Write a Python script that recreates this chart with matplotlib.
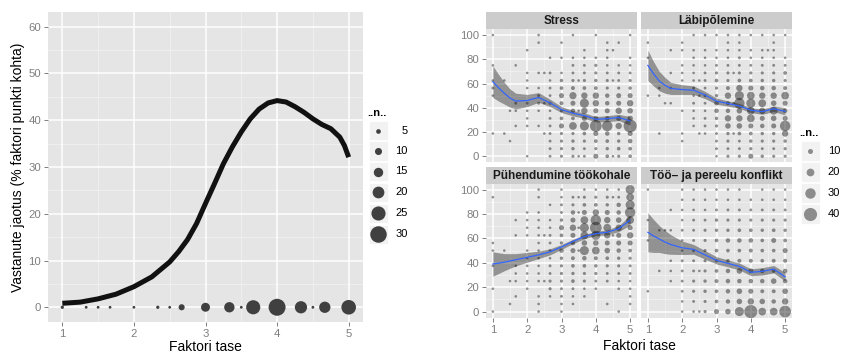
import matplotlib
matplotlib.use("Agg")
import matplotlib.pyplot as plt
from matplotlib.patches import Rectangle

plt.rcParams['font.family'] = ['Liberation Sans', 'DejaVu Sans']

DPI = 100
W, H = 841, 354

# ---------------- data ----------------
# factor levels (x) shared by both charts
levels = [1, 4/3, 1.5, 5/3, 2, 7/3, 2.5, 8/3, 3, 10/3, 3.5, 11/3, 4, 13/3, 4.5, 14/3, 5]

# left chart: respondents per factor level and the density curve (% per factor point)
level_counts = [2, 1, 1, 1, 1, 2, 1, 8, 14, 17, 1, 25, 31, 21, 1, 19, 26]
dens_x = [1, 1.25, 1.5, 1.75, 2, 2.25, 2.5, 2.625, 2.75, 2.875, 3, 3.125, 3.25,
          3.375, 3.5, 3.625, 3.75, 3.875, 4, 4.125, 4.25, 4.375, 4.5, 4.625,
          4.75, 4.875, 4.94, 5]
dens_y = [0.85, 1.1, 1.8, 2.8, 4.4, 6.5, 9.7, 11.9, 14.5, 17.9, 22.2, 26.4, 30.7,
          34.3, 37.5, 40.3, 42.4, 43.7, 44.2, 43.9, 42.9, 41.7, 40.3, 39.1,
          38.2, 36.4, 34.6, 32.1]
left_legend_n = [5, 10, 15, 20, 25, 30]

# right chart: response values (rows, top to bottom) and counts per level (columns)
y16 = [100, 93.75, 87.5, 81.25, 75, 68.75, 62.5, 56.25, 50, 43.75, 37.5, 31.25,
       25, 18.75, 12.5, 6.25, 0]
y12 = [100, 91.67, 83.33, 75, 66.67, 58.33, 50, 41.67, 33.33, 25, 16.67, 8.33, 0]

stress_n = [
    [1, 0, 0, 0, 0, 1, 0, 0, 0, 1, 0, 0, 1, 0, 0, 0, 1],
    [0, 0, 0, 0, 0, 1, 0, 0, 1, 0, 0, 0, 0, 1, 0, 1, 0],
    [0, 0, 0, 0, 1, 0, 0, 0, 0, 0, 0, 1, 0, 1, 1, 0, 0],
    [0, 0, 0, 0, 0, 0, 0, 1, 1, 1, 0, 1, 1, 1, 0, 0, 1],
    [1, 0, 0, 1, 0, 0, 0, 0, 0, 2, 0, 2, 3, 1, 0, 1, 1],
    [0, 0, 0, 0, 1, 1, 1, 2, 1, 2, 0, 2, 3, 2, 0, 2, 2],
    [1, 1, 0, 0, 1, 0, 0, 1, 4, 3, 1, 3, 4, 3, 1, 2, 3],
    [2, 0, 0, 0, 1, 1, 0, 2, 5, 6, 0, 5, 5, 3, 0, 3, 4],
    [1, 0, 0, 0, 0, 2, 0, 2, 10, 18, 0, 15, 15, 8, 0, 10, 10],
    [0, 0, 0, 2, 2, 2, 1, 3, 6, 10, 0, 25, 15, 8, 0, 10, 15],
    [0, 0, 1, 1, 1, 1, 0, 1, 3, 8, 1, 15, 10, 10, 0, 15, 12],
    [0, 0, 0, 0, 1, 0, 0, 2, 5, 5, 0, 10, 10, 8, 0, 10, 12],
    [0, 0, 0, 1, 1, 1, 0, 2, 10, 20, 0, 25, 35, 30, 0, 15, 40],
    [1, 1, 0, 0, 0, 0, 1, 2, 3, 3, 0, 5, 10, 8, 0, 4, 10],
    [0, 0, 1, 0, 0, 0, 0, 2, 3, 4, 0, 3, 5, 5, 0, 4, 8],
    [0, 0, 0, 0, 0, 0, 0, 2, 3, 4, 0, 2, 3, 4, 0, 5, 5],
    [0, 0, 0, 0, 1, 0, 0, 2, 3, 3, 1, 2, 10, 5, 1, 3, 5],
]
burnout_n = [
    [0, 0, 0, 0, 0, 1, 0, 1, 1, 1, 0, 1, 1, 1, 0, 1, 1],
    [1, 0, 0, 0, 1, 0, 0, 0, 0, 1, 0, 1, 0, 0, 0, 1, 0],
    [0, 0, 0, 1, 1, 1, 0, 1, 1, 1, 0, 1, 1, 1, 1, 1, 0],
    [1, 0, 0, 0, 0, 1, 0, 1, 1, 1, 0, 2, 1, 1, 0, 1, 1],
    [0, 0, 0, 0, 1, 1, 0, 1, 2, 2, 0, 2, 2, 2, 0, 2, 2],
    [0, 0, 0, 1, 1, 1, 0, 2, 3, 3, 1, 3, 3, 3, 0, 3, 5],
    [0, 0, 0, 0, 1, 1, 1, 2, 5, 3, 0, 5, 5, 4, 0, 4, 3],
    [0, 1, 0, 1, 0, 2, 0, 2, 3, 6, 0, 15, 10, 8, 0, 8, 6],
    [1, 1, 0, 0, 0, 1, 1, 3, 4, 15, 0, 25, 20, 15, 0, 15, 20],
    [0, 0, 1, 1, 0, 2, 0, 2, 8, 6, 1, 30, 25, 20, 0, 12, 10],
    [0, 0, 0, 0, 1, 1, 0, 1, 8, 8, 0, 12, 20, 15, 0, 20, 8],
    [0, 0, 0, 0, 0, 1, 0, 2, 4, 15, 0, 15, 20, 10, 0, 12, 10],
    [0, 0, 0, 0, 0, 1, 0, 2, 3, 12, 0, 12, 10, 8, 0, 10, 30],
    [0, 1, 0, 0, 1, 0, 1, 1, 2, 4, 1, 5, 5, 4, 0, 4, 15],
    [0, 0, 0, 0, 1, 0, 0, 0, 2, 3, 0, 2, 4, 3, 0, 3, 4],
    [0, 0, 0, 0, 0, 0, 0, 0, 2, 2, 0, 2, 3, 2, 0, 2, 3],
    [0, 0, 0, 0, 0, 0, 0, 0, 1, 3, 0, 3, 10, 4, 0, 3, 3],
]
engagement_n = [
    [0, 0, 0, 0, 0, 1, 0, 0, 1, 0, 0, 1, 1, 1, 0, 1, 25],
    [1, 0, 0, 0, 0, 1, 0, 0, 1, 2, 1, 3, 3, 3, 1, 2, 20],
    [0, 0, 0, 0, 0, 0, 0, 1, 2, 3, 0, 5, 5, 4, 0, 8, 25],
    [0, 0, 0, 0, 1, 1, 0, 0, 2, 8, 1, 10, 15, 10, 0, 8, 30],
    [0, 0, 0, 1, 1, 1, 0, 1, 4, 10, 0, 20, 30, 15, 0, 12, 20],
    [0, 0, 0, 0, 1, 1, 0, 1, 10, 15, 1, 25, 35, 20, 0, 15, 10],
    [0, 0, 0, 1, 1, 1, 1, 2, 5, 10, 0, 20, 25, 15, 1, 10, 15],
    [1, 0, 0, 0, 0, 1, 0, 2, 4, 8, 0, 12, 12, 10, 0, 10, 10],
    [1, 1, 0, 0, 1, 1, 0, 2, 8, 10, 1, 25, 20, 12, 0, 8, 5],
    [0, 0, 0, 0, 1, 1, 0, 1, 4, 6, 0, 8, 6, 5, 0, 4, 3],
    [1, 0, 0, 1, 1, 1, 0, 2, 3, 5, 0, 5, 4, 3, 0, 3, 2],
    [0, 0, 0, 1, 1, 1, 0, 2, 3, 4, 0, 3, 3, 2, 0, 2, 2],
    [0, 0, 1, 1, 1, 1, 1, 3, 3, 5, 0, 3, 2, 2, 0, 1, 1],
    [1, 0, 0, 0, 1, 0, 0, 3, 2, 2, 0, 1, 1, 0, 0, 1, 1],
    [0, 0, 0, 1, 0, 1, 0, 1, 2, 1, 0, 1, 0, 0, 0, 0, 1],
    [0, 0, 1, 0, 0, 1, 0, 0, 1, 1, 0, 0, 0, 1, 0, 0, 1],
    [1, 0, 0, 0, 0, 1, 0, 0, 1, 0, 0, 0, 0, 0, 0, 1, 0],
]
conflict_n = [
    [1, 0, 0, 0, 1, 1, 0, 1, 1, 1, 0, 1, 0, 1, 0, 1, 1],
    [0, 0, 0, 0, 1, 1, 0, 1, 1, 1, 0, 1, 1, 1, 0, 1, 1],
    [0, 0, 0, 1, 1, 1, 0, 1, 2, 2, 0, 2, 2, 2, 0, 2, 2],
    [1, 0, 0, 0, 1, 2, 0, 2, 4, 3, 0, 3, 3, 3, 0, 3, 3],
    [0, 1, 1, 1, 2, 2, 0, 3, 4, 4, 0, 5, 5, 4, 0, 5, 4],
    [1, 0, 0, 0, 1, 2, 0, 3, 5, 8, 0, 8, 8, 5, 0, 10, 5],
    [0, 0, 0, 0, 1, 3, 0, 3, 5, 5, 0, 5, 6, 5, 0, 5, 10],
    [0, 0, 0, 1, 2, 2, 0, 3, 4, 5, 0, 6, 6, 5, 0, 6, 6],
    [0, 1, 0, 1, 2, 2, 1, 3, 5, 8, 0, 12, 10, 8, 0, 6, 8],
    [0, 0, 0, 1, 2, 3, 0, 4, 6, 8, 0, 8, 8, 8, 0, 12, 8],
    [1, 0, 0, 0, 2, 3, 0, 4, 5, 8, 0, 12, 10, 6, 0, 6, 12],
    [0, 0, 0, 0, 1, 2, 0, 3, 5, 8, 0, 12, 15, 12, 0, 8, 15],
    [0, 0, 0, 0, 1, 1, 1, 3, 10, 12, 0, 25, 40, 20, 0, 20, 35],
]

# loess fits (mean and half-width of the confidence band)
fit_x = [1, 7/6, 4/3, 1.5, 5/3, 2, 7/3, 8/3, 3, 10/3, 11/3, 4, 13/3, 14/3, 5]
stress_fit = [61.5, 56.5, 52, 48, 45.5, 46, 48.5, 44, 38.5, 35.5, 33.5, 30.5, 31, 32, 29.2]
stress_se = [13, 11, 9, 7.5, 6.5, 5, 4, 3, 2.5, 2.2, 2.2, 2.2, 2.5, 2.6, 3.5]
burnout_fit = [75, 68, 62, 58.5, 56, 55, 54.5, 50.5, 45.5, 43.5, 41.5, 38, 36.8, 39.2, 37]
burnout_se = [12.5, 10, 8, 6.5, 5, 4, 3.5, 3, 2.5, 2.2, 2, 2, 2.2, 2.3, 3]
engagement_fit = [39, 39.7, 40.5, 41.5, 42.5, 44.5, 46.5, 49, 53, 57.5, 61.5, 64, 65, 68, 75]
engagement_se = [10, 8.5, 7, 6, 5, 4, 3, 2.5, 2, 1.8, 1.8, 1.8, 2, 2.5, 4]
conflict_fit = [65, 62, 59.5, 57, 55, 52.3, 51, 46.5, 42, 39.5, 37, 32.2, 33, 34.8, 28.5]
conflict_se = [16, 13.5, 11, 9.5, 8, 5.5, 4, 3.5, 3, 2.8, 2.8, 2.8, 3, 3, 3.5]

facets = [
    ("Stress", y16, stress_n, stress_fit, stress_se),
    ("Läbipõlemine", y16, burnout_n, burnout_fit, burnout_se),
    ("Pühendumine töökohale", y16, engagement_n, engagement_fit, engagement_se),
    ("Töö– ja pereelu konflikt", y12, conflict_n, conflict_fit, conflict_se),
]
right_legend_n = [10, 20, 30, 40]

# ---------------- styling ----------------
PANEL_BG = "#E5E5E5"
MINOR = "#F2F2F2"
TICK_COL = "#7F7F7F"
KEY_BG = "#F2F2F2"
STRIP_BG = "#CCCCCC"


def px2pt(d):
    return d * 72.0 / DPI


def left_size(n):
    d = 2.8 + 0.472 * (n - 1)
    return px2pt(d) ** 2


def right_size(n):
    d = 2.6 + 0.27 * (n - 1)
    return px2pt(d) ** 2


fig = plt.figure(figsize=(W / DPI, H / DPI), dpi=DPI, facecolor="white")


def add_ax(x0, y0, x1, y1):
    return fig.add_axes([x0 / W, 1 - y1 / H, (x1 - x0) / W, (y1 - y0) / H])


def style_ax(ax, xmaj, xmin, ymaj, ymin, show_x=True, show_y=True):
    ax.set_facecolor(PANEL_BG)
    for s in ax.spines.values():
        s.set_visible(False)
    for v in xmin:
        ax.axvline(v, color=MINOR, lw=0.55, zorder=0.5)
    for v in ymin:
        ax.axhline(v, color=MINOR, lw=0.55, zorder=0.5)
    for v in xmaj:
        ax.axvline(v, color="white", lw=1.1, zorder=0.6)
    for v in ymaj:
        ax.axhline(v, color="white", lw=1.1, zorder=0.6)
    ax.set_xticks(xmaj)
    ax.set_yticks(ymaj)
    ax.tick_params(direction="out", length=3.0, width=0.7, color=TICK_COL,
                   labelcolor=TICK_COL, labelsize=8.2, pad=2.0)
    if not show_x:
        ax.tick_params(axis="x", length=0, labelbottom=False)
    if not show_y:
        ax.tick_params(axis="y", length=0, labelleft=False)


# ---------------- left chart ----------------
axL = add_ax(48, 12, 363, 322)
axL.set_xlim(0.8, 5.2)
axL.set_ylim(-3.15, 63.15)
style_ax(axL, [1, 2, 3, 4, 5], [1.5, 2.5, 3.5, 4.5],
         [0, 10, 20, 30, 40, 50, 60], [5, 15, 25, 35, 45, 55])
axL.scatter(levels, [0] * len(levels), s=[left_size(n) for n in level_counts],
            color="#404040", linewidths=0, zorder=3)
axL.plot(dens_x, dens_y, color="#111111", lw=3.6, solid_capstyle="butt",
         solid_joinstyle="round", zorder=4)
axL.set_xlabel("Faktori tase", fontsize=10, labelpad=0.5)
axL.set_ylabel("Vastanute jaotus (% faktori punkti kohta)", fontsize=10, labelpad=2.5)

# ---------------- right chart ----------------
col_x = [(486, 637), (641, 792)]
row_y = [(29, 162.3), (183.5, 317.7)]
strip_h = 16.7
panel_axes = []
for i, (title, ylev, counts, fit, se) in enumerate(facets):
    r, c = divmod(i, 2)
    x0, x1 = col_x[c]
    y0, y1 = row_y[r]
    ax = add_ax(x0, y0, x1, y1)
    ax.set_xlim(0.8, 5.2)
    ax.set_ylim(-5, 105)
    style_ax(ax, [1, 2, 3, 4, 5], [1.5, 2.5, 3.5, 4.5],
             [0, 20, 40, 60, 80, 100], [10, 30, 50, 70, 90],
             show_x=(r == 1), show_y=(c == 0))
    xs, ys, ss = [], [], []
    for yi, yv in enumerate(ylev):
        for xi, xv in enumerate(levels):
            n = counts[yi][xi]
            if n > 0:
                xs.append(xv)
                ys.append(yv)
                ss.append(right_size(n))
    ax.scatter(xs, ys, s=ss, color="black", alpha=0.42, linewidths=0, zorder=2)
    lo = [m - h for m, h in zip(fit, se)]
    hi = [m + h for m, h in zip(fit, se)]
    ax.fill_between(fit_x, lo, hi, color="black", alpha=0.36, linewidth=0, zorder=3)
    ax.plot(fit_x, fit, color="#3366FF", lw=0.9, zorder=4,
            solid_joinstyle="round")
    panel_axes.append((ax, title, x0, x1, y0))

# overlay in pixel coordinates for strips, legends and shared titles
ov = fig.add_axes([0, 0, 1, 1], facecolor="none")
ov.set_xlim(0, W)
ov.set_ylim(H, 0)
ov.axis("off")

for ax, title, x0, x1, y0 in panel_axes:
    ov.add_patch(Rectangle((x0, y0 - strip_h), x1 - x0, strip_h,
                           facecolor=STRIP_BG, edgecolor="none"))
    ov.text((x0 + x1) / 2, y0 - strip_h / 2 + 0.5, title, ha="center", va="center",
            fontsize=8.5, fontweight="bold", color="#1A1A1A")

ov.text(639, 346.5, "Faktori tase", ha="center", va="center", fontsize=10)

# left legend
ov.text(367.5, 112.5, "..n..", ha="left", va="center", fontsize=8, fontweight="bold")
left_key_y = [130.7, 150.9, 171.5, 192.4, 213.3, 234.3]
for n, ky in zip(left_legend_n, left_key_y):
    ov.add_patch(Rectangle((369, ky - 9.6), 19, 19.2, facecolor=KEY_BG,
                           edgecolor="white", lw=0.6))
    ov.scatter([378.5], [ky], s=left_size(n), color="#404040", linewidths=0)
    ov.text(407.5, ky, str(n), ha="right", va="center", fontsize=8)

# right legend
ov.text(799.5, 132.5, "..n..", ha="left", va="center", fontsize=8, fontweight="bold")
right_key_y = [150.7, 171.7, 192.7, 214.0]
for n, ky in zip(right_legend_n, right_key_y):
    ov.add_patch(Rectangle((801, ky - 10), 19, 20, facecolor=KEY_BG,
                           edgecolor="white", lw=0.6))
    ov.scatter([810.5], [ky], s=right_size(n), color="black", alpha=0.42, linewidths=0)
    ov.text(840, ky, str(n), ha="right", va="center", fontsize=8)

fig.savefig("out.png", dpi=DPI, facecolor="white")
